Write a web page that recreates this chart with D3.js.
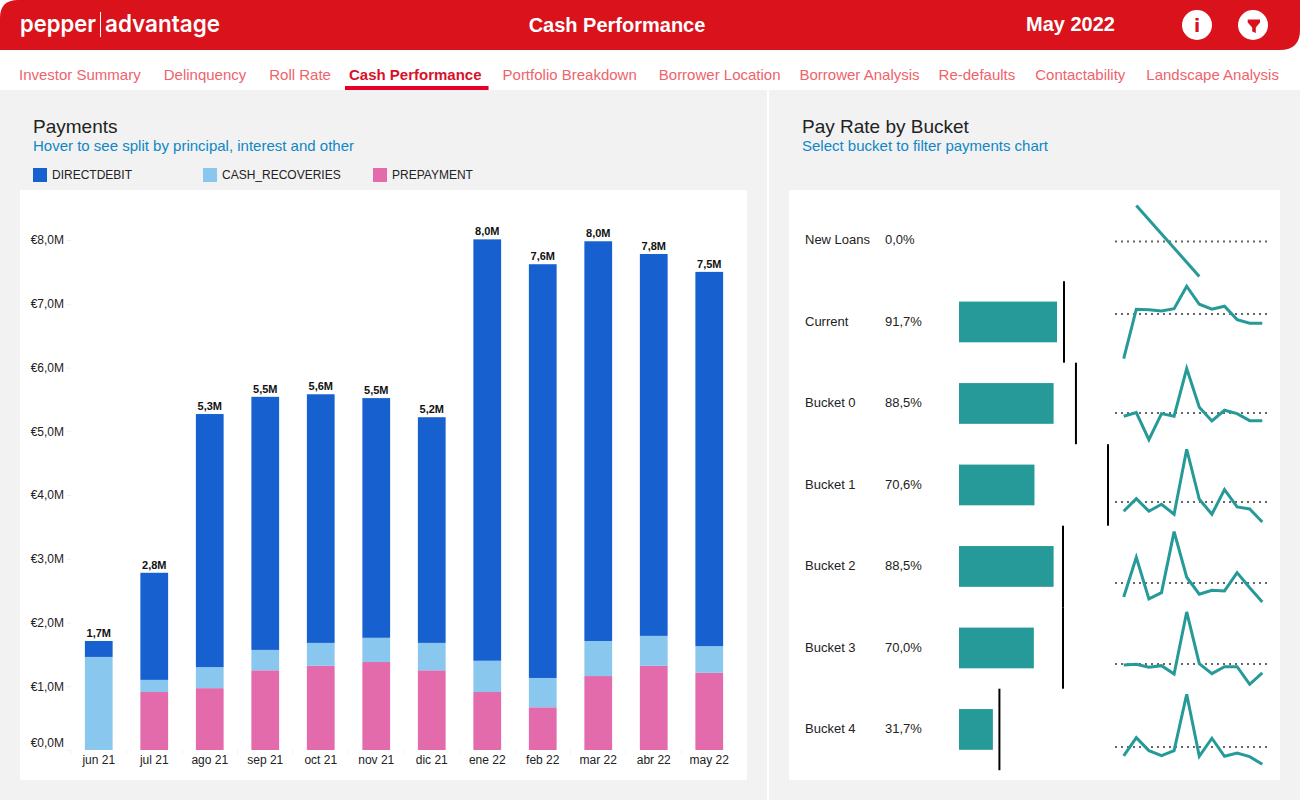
<!DOCTYPE html>
<html>
<head>
<meta charset="utf-8">
<title>Cash Performance</title>
<script src="https://cdn.jsdelivr.net/npm/d3@7"></script>
<style>
  html, body { margin: 0; padding: 0; background: #f2f2f2; overflow: hidden; }
  svg { display: block; font-family: "Liberation Sans", Arial, sans-serif; }
</style>
</head>
<body>
<div id="chart"></div>
<script>
  var navLabels = ['Investor Summary','Delinquency','Roll Rate','Cash Performance','Portfolio Breakdown',
    'Borrower Location','Borrower Analysis','Re-defaults','Contactability','Landscape Analysis'];
  var activeNav = 'Cash Performance';
  var navGaps = [23,23,18,21,22,19,19,20,21,0];

  // payments, in millions of euro
  var months = ['jun 21','jul 21','ago 21','sep 21','oct 21','nov 21','dic 21','ene 22','feb 22','mar 22','abr 22','may 22'];
  var prepayment = [0,0.91,0.97,1.25,1.32,1.38,1.25,0.91,0.67,1.16,1.32,1.21];
  var cashRecoveries = [1.46,0.19,0.33,0.32,0.36,0.38,0.43,0.49,0.46,0.55,0.47,0.42];
  var directDebit = [0.25,1.68,3.97,3.97,3.90,3.76,3.54,6.61,6.49,6.27,5.99,5.87];
  var totalLabels = ['1,7M','2,8M','5,3M','5,5M','5,6M','5,5M','5,2M','8,0M','7,6M','8,0M','7,8M','7,5M'];
  var yTicks = [0,1,2,3,4,5,6,7,8];
  var yTickLabels = ['€0,0M','€1,0M','€2,0M','€3,0M','€4,0M','€5,0M','€6,0M','€7,0M','€8,0M'];
  var seriesNames = ['DIRECTDEBIT','CASH_RECOVERIES','PREPAYMENT'];

  // pay rate by bucket
  var buckets = ['New Loans','Current','Bucket 0','Bucket 1','Bucket 2','Bucket 3','Bucket 4'];
  var payRates = [0,91.7,88.5,70.6,88.5,70.0,31.7];
  var rateLabels = ['0,0%','91,7%','88,5%','70,6%','88,5%','70,0%','31,7%'];
  var targets = [null,98.2,109.4,139.4,97.3,97.3,37.8];

  // trend per bucket, points against that bucket's average (null = no payment that month)
  var sparkAverage = [-1,8,-9.5,-17,-16.5,-16,-17.5];
  var sparkNewLoans = [null,36,null,null,null,null,-35,null,null,null,null,null];
  var sparkCurrent = [-44.7,4.7,4.3,3,5.3,27.7,9.7,4.7,7.7,-5.7,-9.3,-9.3];
  var sparkBucket0 = [-3.3,0.3,-26.7,-0.7,-3.3,44.3,5.7,-8,2.7,-0.7,-7.7,-7.7];
  var sparkBucket1 = [-9.3,3.3,-9.3,-2.3,-12.3,52.7,2.7,-12.3,12.3,-5,-7,-20];
  var sparkBucket2 = [-14,25.7,-16,-9.7,51.3,5.7,-11.3,-7.3,-8,10.3,-4.7,-19];
  var sparkBucket3 = [-1,-0.3,-3.3,-1.7,-10,52,0.3,-9.7,-2.7,-2.7,-20.3,-9];
  var sparkBucket4 = [-9,9.3,-3.7,-8.7,-3.7,52.7,-9.3,8.7,-9.3,-6,-9.7,-17.3];
  var sparks = [sparkNewLoans,sparkCurrent,sparkBucket0,sparkBucket1,sparkBucket2,sparkBucket3,sparkBucket4];

  var red = '#d9121b';
  var teal = '#259a98';
  var barColors = {DIRECTDEBIT:'#1660cf', CASH_RECOVERIES:'#89c7ef', PREPAYMENT:'#e36bac'};

  var svg = d3.select('#chart').append('svg').attr('width',1300).attr('height',800);

  // page furniture
  svg.append('rect').attr('width',1300).attr('height',800).attr('fill','#f2f2f2');
  svg.append('rect').attr('width',1300).attr('height',90).attr('fill','#fff');
  svg.append('rect').attr('x',767).attr('y',90).attr('width',2).attr('height',710).attr('fill','#fff');
  svg.append('path').attr('fill',red)
    .attr('d','M0,50 L0,18 Q0,0 18,0 L1300,0 L1300,30 Q1300,50 1280,50 Z');

  // logo
  var logo = svg.append('g').attr('fill','#fff').attr('font-family','Inter, "Noto Sans", sans-serif').attr('font-size',24).attr('font-weight',600);
  logo.append('text').attr('x',20).attr('y',32).attr('textLength',76).attr('lengthAdjust','spacingAndGlyphs').text('pepper');
  logo.append('rect').attr('x',100).attr('y',12).attr('width',1).attr('height',25);
  logo.append('text').attr('x',105).attr('y',32).attr('textLength',115).attr('lengthAdjust','spacingAndGlyphs').text('advantage');

  svg.append('text').attr('x',617).attr('y',32).attr('text-anchor','middle').attr('fill','#fff')
    .attr('font-size',20).attr('font-weight',700).text('Cash Performance');
  svg.append('text').attr('x',1070.5).attr('y',31).attr('text-anchor','middle').attr('fill','#fff')
    .attr('font-size',20).attr('font-weight',700).text('May 2022');

  // header icons
  svg.append('circle').attr('cx',1197).attr('cy',25).attr('r',15).attr('fill','#fff');
  svg.append('text').attr('x',1197).attr('y',32).attr('text-anchor','middle').attr('fill',red)
    .attr('font-family','"DejaVu Sans"').attr('font-size',18).attr('font-weight',700).text('i');
  svg.append('circle').attr('cx',1253).attr('cy',25).attr('r',15).attr('fill','#fff');
  svg.append('path').attr('fill',red)
    .attr('d','M1247.7,19.5 L1260,19.5 L1260,22.5 L1255.8,27.5 L1255.8,33 L1252.2,31.5 L1252.2,27.5 L1247.7,22.5 Z');

  // nav tabs, laid out one after the other
  var navX = 19;
  navLabels.forEach(function(label,i){
    var isActive = label === activeNav;
    var t = svg.append('text').attr('x',navX).attr('y',80).attr('font-size',15)
      .attr('font-weight',isActive ? 700 : 400)
      .attr('fill',isActive ? '#d9102a' : '#ef636b').text(label);
    var w = t.node().getComputedTextLength();
    if(isActive){
      svg.append('rect').attr('x',navX-4).attr('y',86).attr('width',w+11).attr('height',4).attr('fill','#e4002b');
    }
    navX += w + navGaps[i];
  });

  // panel titles
  var panelTitle = function(x, title, sub){
    svg.append('text').attr('x',x).attr('y',133).attr('font-size',19).attr('fill','#222').text(title);
    svg.append('text').attr('x',x).attr('y',151).attr('font-size',15).attr('fill','#0f87c4').text(sub);
  };
  panelTitle(33,'Payments','Hover to see split by principal, interest and other');
  panelTitle(802,'Pay Rate by Bucket','Select bucket to filter payments chart');

  // legend
  seriesNames.forEach(function(name,i){
    var lx = 33 + i*170;
    svg.append('rect').attr('x',lx).attr('y',168).attr('width',14).attr('height',14).attr('fill',barColors[name]);
    svg.append('text').attr('x',lx+19).attr('y',179).attr('font-size',12).attr('fill','#222').text(name);
  });

  svg.append('rect').attr('x',20).attr('y',190).attr('width',727).attr('height',590).attr('fill','#fff');
  svg.append('rect').attr('x',789).attr('y',190).attr('width',491).attr('height',590).attr('fill','#fff');

  // stacked bars
  var x = d3.scaleBand().domain(months).range([71,737]).paddingInner(0.5).paddingOuter(0.25);
  var y = d3.scaleLinear().domain([0,8]).range([750,240]);

  var rows = months.map(function(m,i){
    return {month:m, PREPAYMENT:prepayment[i], CASH_RECOVERIES:cashRecoveries[i], DIRECTDEBIT:directDebit[i], label:totalLabels[i]};
  });
  var stacked = d3.stack().keys(['PREPAYMENT','CASH_RECOVERIES','DIRECTDEBIT'])(rows);

  svg.append('g').selectAll('g').data(stacked).enter().append('g')
    .attr('fill',function(s){return barColors[s.key]})
    .selectAll('rect').data(function(s){return s}).enter().append('rect')
    .attr('x',function(d){return x(d.data.month)})
    .attr('width',x.bandwidth())
    .attr('y',function(d){return y(d[1])})
    .attr('height',function(d){return y(d[0])-y(d[1])});

  svg.append('g').selectAll('text').data(rows).enter().append('text')
    .attr('x',function(d){return x(d.month)+x.bandwidth()/2})
    .attr('y',function(d){return y(d.PREPAYMENT+d.CASH_RECOVERIES+d.DIRECTDEBIT)-4})
    .attr('text-anchor','middle').attr('font-size',11).attr('font-weight',700).attr('fill','#111')
    .text(function(d){return d.label});

  // axes
  var yAxis = svg.append('g').attr('transform','translate(71,0)')
    .call(d3.axisLeft(y).tickValues(yTicks).tickSize(4).tickPadding(3)
      .tickFormat(function(d,i){return yTickLabels[i]}));
  yAxis.select('.domain').remove();
  yAxis.selectAll('line').attr('stroke','#eee');
  yAxis.selectAll('text').attr('font-family','"Liberation Sans"').attr('font-size',12).attr('fill','#222')
    .attr('transform',function(d){return d === 0 ? 'translate(0,-7)' : null});

  var xAxis = svg.append('g').attr('transform','translate(0,750)')
    .call(d3.axisBottom(x).tickSize(0).tickPadding(5));
  xAxis.select('.domain').attr('stroke','none');
  xAxis.selectAll('text').attr('font-family','"Liberation Sans"').attr('font-size',12).attr('fill','#222');

  // faint marks between the months
  svg.append('g').selectAll('line').data(months).enter().append('line')
    .attr('x1',function(m){return x(m)-x.step()*0.25})
    .attr('x2',function(m){return x(m)-x.step()*0.25})
    .attr('y1',750).attr('y2',754)
    .attr('stroke','#f2f2f2');

  // pay rate rows
  var rowY = d3.scaleBand().domain(buckets).range([199.7,770.2]).paddingInner(0.5).paddingOuter(0.25);
  var rateX = d3.scaleLinear().domain([0,100]).range([959,1065.9]);
  var sparkX = d3.scalePoint().domain(months).range([1123.7,1262.3]);
  var sparkY = d3.scaleLinear().domain([-60,60]).range([60,-60]);
  var rowMid = function(b){return rowY(b)+rowY.bandwidth()/2};

  var line = d3.line()
    .x(function(d){return sparkX(d.month)})
    .y(function(d){return sparkY(d.value)});

  buckets.forEach(function(b,i){
    var mid = rowMid(b);
    svg.append('text').attr('x',805).attr('y',mid+4).attr('font-size',13).attr('fill','#222').text(b);
    svg.append('text').attr('x',885).attr('y',mid+4).attr('font-size',13).attr('fill','#222').text(rateLabels[i]);

    if(payRates[i] > 0){
      svg.append('rect').attr('x',rateX(0)).attr('y',rowY(b))
        .attr('width',rateX(payRates[i])-rateX(0)).attr('height',rowY.bandwidth()).attr('fill',teal);
    }
    if(targets[i] !== null){
      svg.append('line').attr('x1',rateX(targets[i])).attr('x2',rateX(targets[i]))
        .attr('y1',mid-rowY.step()/2).attr('y2',mid+rowY.step()/2)
        .attr('stroke','#000').attr('stroke-width',2);
    }

    var g = svg.append('g').attr('transform','translate(0,'+mid+')');
    g.append('line').attr('x1',1115).attr('x2',1268)
      .attr('y1',sparkY(sparkAverage[i])).attr('y2',sparkY(sparkAverage[i]))
      .attr('stroke','#666').attr('stroke-width',2).attr('stroke-dasharray','2,4');

    var points = months.map(function(m,j){
      return {month:m, value:sparks[i][j] === null ? null : sparks[i][j]+sparkAverage[i]};
    }).filter(function(d){return d.value !== null});

    g.append('path').attr('d',line(points)).attr('fill','none')
      .attr('stroke',teal).attr('stroke-width',3);
  });
</script>
</body>
</html>
